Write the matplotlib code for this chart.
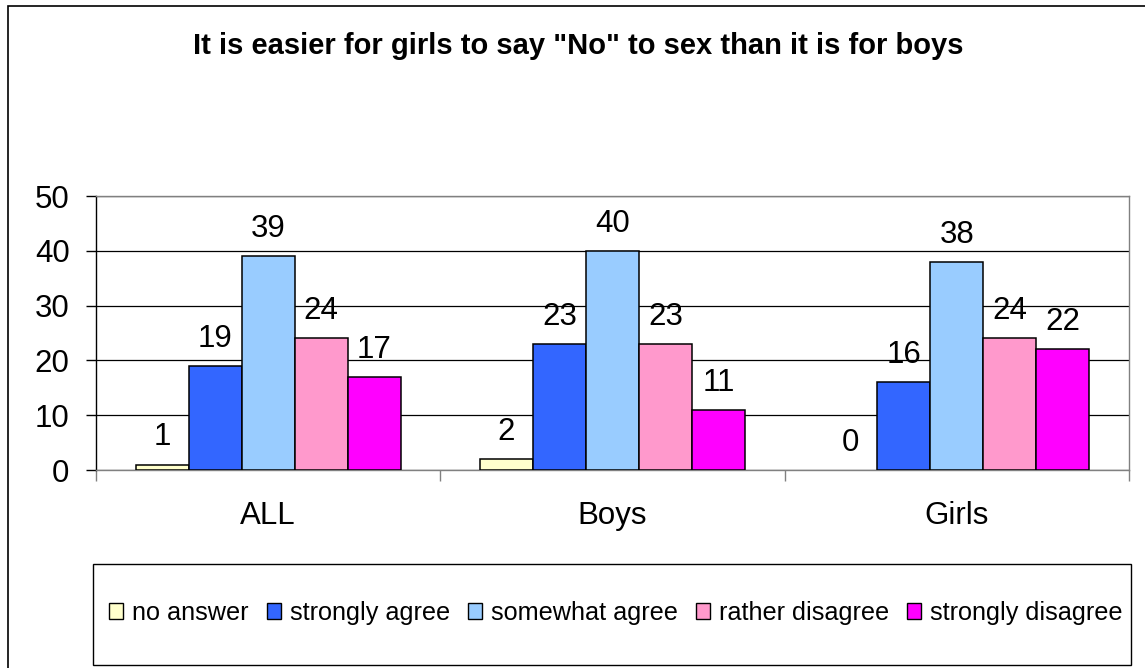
import matplotlib
matplotlib.use("Agg")
import matplotlib.pyplot as plt
import numpy as np
from matplotlib.patches import Rectangle, Patch

plt.rcParams['font.family'] = ['Liberation Sans', 'DejaVu Sans']

title = 'It is easier for girls to say "No" to sex than it is for boys'
categories = ["ALL", "Boys", "Girls"]
series_names = ["no answer", "strongly agree", "somewhat agree", "rather disagree", "strongly disagree"]
no_answer = [1, 2, 0]
strongly_agree = [19, 23, 16]
somewhat_agree = [39, 40, 38]
rather_disagree = [24, 23, 24]
strongly_disagree = [17, 11, 22]
series_values = [no_answer, strongly_agree, somewhat_agree, rather_disagree, strongly_disagree]
colors = ["#FFFFCC", "#3366FF", "#99CCFF", "#FF99CC", "#FF00FF"]
y_ticks = [0, 10, 20, 30, 40, 50]

W, H = 1145, 668
fig = plt.figure(figsize=(W / 100, H / 100), dpi=100)

# outer frame
fig.patches.append(Rectangle((8 / W, 1 - 680 / H), (1160 - 8) / W, (680 - 6) / H,
                             transform=fig.transFigure, fill=False, edgecolor='black',
                             linewidth=1.2, zorder=0))

ax = fig.add_axes([96 / W, 1 - 470 / H, (1129 - 96) / W, (470 - 196) / H])

n = len(series_names)
bw = 0.154
x = np.arange(len(categories))
for i, (name, vals, c) in enumerate(zip(series_names, series_values, colors)):
    pos = x + (i - (n - 1) / 2) * bw
    bars = ax.bar(pos, vals, width=bw, color=c, edgecolor='black', linewidth=1.1,
                  label=name, zorder=3)
    for b, v in zip(bars, vals):
        if v == 0:
            b.set_linewidth(0)
    for px, v in zip(pos, vals):
        ax.annotate(str(v), (px, v), xytext=(0, 13.7), textcoords='offset points',
                    ha='center', va='baseline', fontsize=22.5, zorder=4)

ax.set_xlim(-0.5, len(categories) - 0.5)
ax.set_ylim(0, 50)
ax.set_yticks(y_ticks)
ax.set_yticklabels([str(t) for t in y_ticks], fontsize=22.5)
ax.tick_params(axis='y', length=7, width=1, color='black', pad=12)
ax.yaxis.grid(True, color='black', linewidth=0.9, zorder=0)

ax.set_xticks(np.arange(len(categories) + 1) - 0.5)
ax.set_xticklabels([])
ax.tick_params(axis='x', which='major', length=8, width=1, color='#808080', direction='out')
ax.set_xticks(x, minor=True)
ax.set_xticklabels(categories, minor=True, fontsize=22.5)
ax.tick_params(axis='x', which='minor', length=0, pad=22)

ax.spines['left'].set_color('black')
ax.spines['bottom'].set_color('#808080')
ax.spines['top'].set_color('#808080')
ax.spines['right'].set_color('#808080')
for s in ax.spines.values():
    s.set_linewidth(1.0)
ax.set_axisbelow(True)

fig.text(578 / W, 1 - 46 / H, title, ha='center', va='center', fontsize=21, fontweight='bold')

# legend box
fig.patches.append(Rectangle((93 / W, 1 - 665 / H), (1131 - 93) / W, (665 - 564) / H,
                             transform=fig.transFigure, fill=False, edgecolor='black',
                             linewidth=1.0))
handles = [Patch(facecolor=c, edgecolor='black', linewidth=1.0) for c in colors]
fig.legend(handles, series_names, loc='center', bbox_to_anchor=(616 / W, 1 - 613 / H),
           ncol=5, frameon=False, fontsize=18.2, handlelength=0.55, handleheight=0.55,
           handletextpad=0.36, columnspacing=0.72, borderpad=0)

fig.savefig("out.png", dpi=100)
